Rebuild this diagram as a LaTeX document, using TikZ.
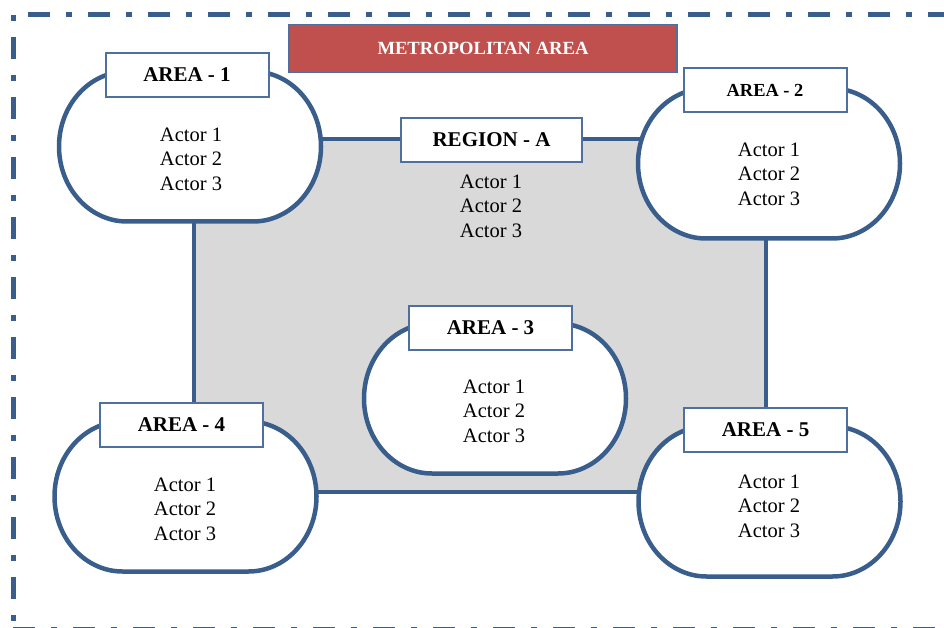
\documentclass[tikz,border=0pt]{standalone}
\usepackage{fontspec}
\setmainfont{Liberation Serif}
\usepackage{tikz}
\definecolor{areablue}{RGB}{58,94,140}
\definecolor{tagblue}{RGB}{79,111,158}
\definecolor{metrored}{RGB}{192,80,77}
\definecolor{regiongray}{RGB}{217,217,217}
\tikzstyle{dashframe} = [draw=areablue, line width=5pt, dash pattern=on 22pt off 16pt on 6pt off 16pt]
\tikzstyle{region} = [draw=areablue, line width=3.5pt, fill=regiongray, minimum width=572pt, minimum height=353pt]
\tikzstyle{tag} = [draw=tagblue, line width=2pt, fill=white, minimum width=163pt, minimum height=44pt, inner sep=0pt, font=\fontsize{21}{24}\selectfont\bfseries]
\tikzstyle{actors} = [align=center, inner sep=0pt, font=\fontsize{20.5}{24.5}\selectfont]
\tikzstyle{title} = [draw=tagblue, line width=1.2pt, fill=metrored, text=white, minimum width=388pt, minimum height=48pt, font=\fontsize{18.6}{22}\selectfont\bfseries]
\tikzset{%
    oval/.pic={%
        \filldraw [draw=areablue, fill=white, line width=4.5pt] (-63,-75) -- (63,-75) arc[start angle=-90, end angle=90, x radius=68, y radius=75] -- (-63,75) arc[start angle=90, end angle=270, x radius=68, y radius=75] -- cycle;
    },
}

\begin{document}
\begin{tikzpicture}[x=1pt, y=-1pt]
\useasboundingbox (0,0) rectangle (944,628);
\clip (0,0) rectangle (944,628);
% frame of the metropolitan area
\draw[dashframe, dash phase=38pt] (13,15) -- (13,640);
\draw[dashframe, dash phase=45pt] (13,15) -- (960,15);
\draw[dashframe] (13,629) -- (960,629);
\node[title] (metro) at (483,48.5) {METROPOLITAN AREA};

% region
\node[region] (reg) at (480,315.5) {};
\node[tag, minimum width=181pt] (reglbl) at (491.5,140) {REGION - A};
\node[actors] (regact) at (491,206) {Actor 1\\Actor 2\\Actor 3};

% areas
\pic (area1) at (190,146.5) {oval};
\node[tag] (area1lbl) at (187,75) {AREA - 1};
\node[actors] (area1act) at (191,159) {Actor 1\\Actor 2\\Actor 3};

\pic (area2) at (769,163.5) {oval};
\node[tag, font=\fontsize{18.4}{22}\selectfont\bfseries] (area2lbl) at (765,90) {AREA - 2};
\node[actors] (area2act) at (769,174) {Actor 1\\Actor 2\\Actor 3};

\pic (area3) at (495,398.5) {oval};
\node[tag] (area3lbl) at (490.5,327.5) {AREA - 3};
\node[actors] (area3act) at (494,411) {Actor 1\\Actor 2\\Actor 3};

\pic (area4) at (185.5,496.5) {oval};
\node[tag] (area4lbl) at (181.5,425) {AREA - 4};
\node[actors] (area4act) at (185,509) {Actor 1\\Actor 2\\Actor 3};

\pic (area5) at (769.5,501.5) {oval};
\node[tag] (area5lbl) at (765.5,429.5) {AREA - 5};
\node[actors] (area5act) at (769,506) {Actor 1\\Actor 2\\Actor 3};
\end{tikzpicture}
\end{document}
